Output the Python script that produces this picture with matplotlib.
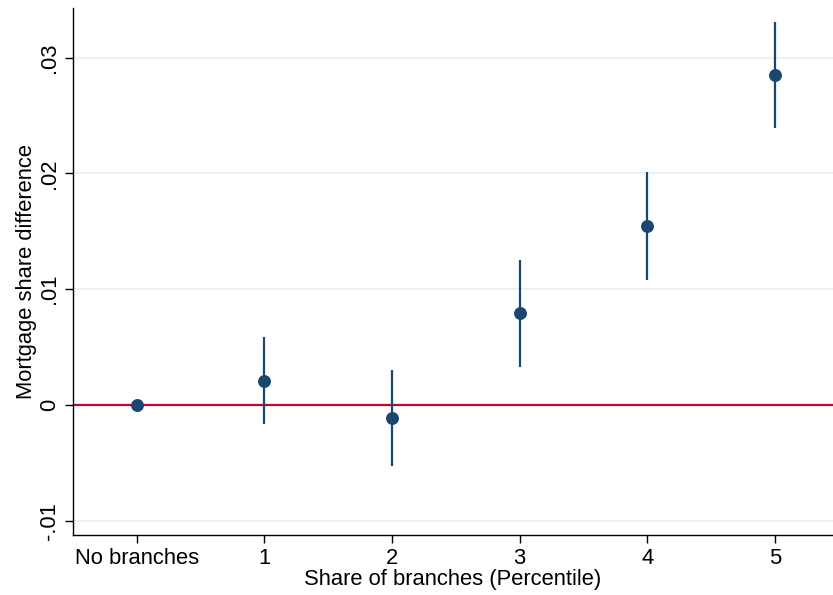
import matplotlib
matplotlib.use("Agg")
import matplotlib.pyplot as plt

categories = ["No branches", "1", "2", "3", "4", "5"]
estimates = [0.0, 0.00207, -0.00112, 0.00795, 0.01547, 0.02852]
ci_low = [0.0, -0.00164, -0.00527, 0.00328, 0.0108, 0.02394]
ci_high = [0.0, 0.00588, 0.00302, 0.01253, 0.02014, 0.0331]
yticks = [-0.01, 0.0, 0.01, 0.02, 0.03]
ytick_labels = ["-.01", "0", ".01", ".02", ".03"]

plt.rcParams['font.family'] = ['Liberation Sans', 'DejaVu Sans']

fig = plt.figure(figsize=(8.33, 5.95), dpi=100)
ax = fig.add_axes([0.0876, 0.1008, 0.9124, 0.8858])

navy = "#1a476f"
x = list(range(len(categories)))

for yt in yticks:
    ax.axhline(yt, color="#eaf2f3", lw=1.5, zorder=0)
ax.axhline(0, color="#c10534", lw=1.6, zorder=1)

for xi, lo, hi in zip(x, ci_low, ci_high):
    if hi != lo:
        ax.vlines(xi, lo, hi, color=navy, lw=1.6, zorder=2)
ax.plot(x, estimates, "o", color=navy, ms=8.3, zorder=3, linestyle="none")

fs = 15.8
ax.set_xlim(-0.5, 5.455)
ax.set_ylim(-0.01124, 0.0343)
ax.set_xticks(x)
ax.set_xticklabels(categories, fontsize=fs)
ax.set_yticks(yticks)
ax.set_yticklabels(ytick_labels, fontsize=fs, rotation=90, va="center")
ax.tick_params(axis="both", direction="out", length=6, width=1, color="black")
ax.tick_params(axis="x", pad=3)
ax.tick_params(axis="y", pad=3)
ax.spines["top"].set_visible(False)
ax.spines["right"].set_visible(False)
ax.spines["left"].set_linewidth(1)
ax.spines["bottom"].set_linewidth(1)
ax.set_xlabel("Share of branches (Percentile)", fontsize=fs, labelpad=0)
ax.set_ylabel("Mortgage share difference", fontsize=fs, labelpad=2)

fig.savefig("out.png", dpi=100, facecolor="white")
